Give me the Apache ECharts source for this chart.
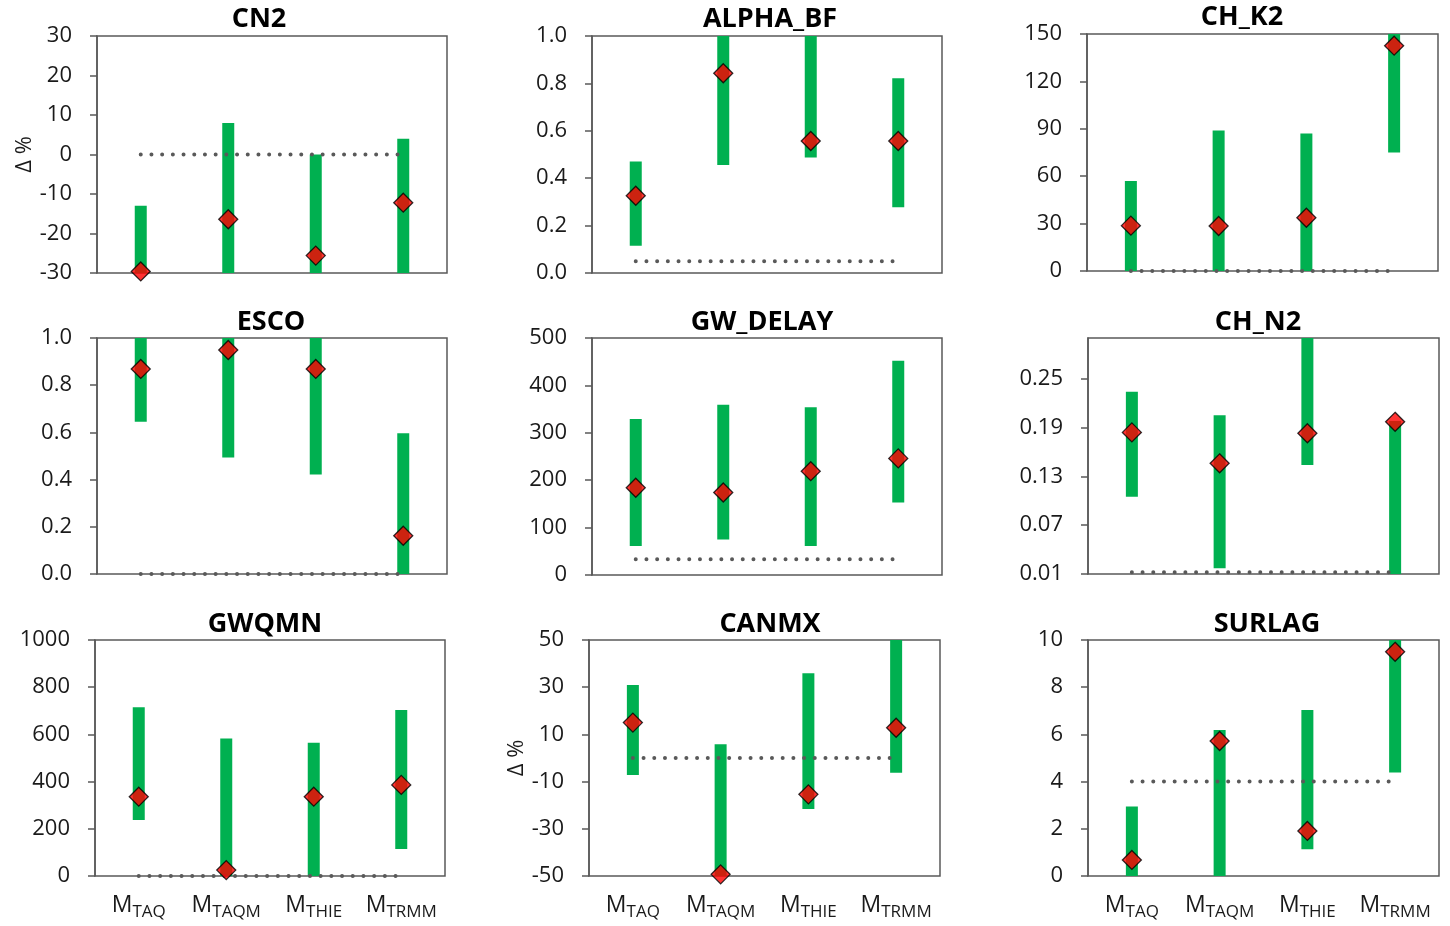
<!DOCTYPE html>
<html>
<head>
<meta charset="utf-8">
<script src="https://cdn.jsdelivr.net/npm/echarts@6/dist/echarts.min.js"></script>
<style>
  html, body { margin: 0; padding: 0; background: #fff; }
  #chart { width: 1450px; height: 926px; }
</style>
</head>
<body>
<div id="chart"></div>
<script>
(function () {

  var categories = ['TAQ', 'TAQM', 'THIE', 'TRMM'];
  var panelNames = ['CN2', 'ALPHA_BF', 'CH_K2', 'ESCO', 'GW_DELAY', 'CH_N2', 'GWQMN', 'CANMX', 'SURLAG'];

  // range (low / high), best value and reference line, per parameter
  var cn2Low = [-30, -30, -30, -30];
  var cn2High = [-13, 8, 0, 4];
  var cn2Best = [-29.6, -16.4, -25.6, -12.2];
  var cn2Ref = 0;

  var alphaLow = [0.115, 0.456, 0.487, 0.277];
  var alphaHigh = [0.47, 1.0, 1.0, 0.822];
  var alphaBest = [0.326, 0.843, 0.557, 0.557];
  var alphaRef = 0.05;

  var chk2Low = [0, 0, 0, 75];
  var chk2High = [57, 89, 87, 150];
  var chk2Best = [28.7, 28.5, 33.7, 142.6];
  var chk2Ref = 0;

  var escoLow = [0.645, 0.494, 0.422, 0];
  var escoHigh = [1.0, 1.0, 1.0, 0.596];
  var escoBest = [0.869, 0.949, 0.869, 0.162];
  var escoRef = 0;

  var gwDelayLow = [61, 75, 61, 153];
  var gwDelayHigh = [329, 359, 354, 452];
  var gwDelayBest = [184, 174, 219, 246];
  var gwDelayRef = 33;

  var chn2Low = [0.105, 0.017, 0.144, 0.01];
  var chn2High = [0.234, 0.205, 0.30, 0.198];
  var chn2Best = [0.184, 0.146, 0.183, 0.197];
  var chn2Ref = 0.012;

  var gwqmnLow = [237, 0, 0, 114];
  var gwqmnHigh = [715, 583, 565, 703];
  var gwqmnBest = [336, 25, 336, 386];
  var gwqmnRef = 0;

  var canmxLow = [-7.2, -50, -21.6, -6.2];
  var canmxHigh = [30.9, 5.8, 35.9, 50];
  var canmxBest = [15, -49.3, -15.4, 12.8];
  var canmxRef = 0;

  var surlagLow = [0, 0, 1.13, 4.39];
  var surlagHigh = [2.94, 6.19, 7.03, 10];
  var surlagBest = [0.68, 5.72, 1.91, 9.5];
  var surlagRef = 4;

  // y tick labels
  var cn2Ticks = [-30, -20, -10, 0, 10, 20, 30];
  var alphaTicks = [0, 0.2, 0.4, 0.6, 0.8, 1.0];
  var chk2Ticks = [0, 30, 60, 90, 120, 150];
  var escoTicks = [0, 0.2, 0.4, 0.6, 0.8, 1.0];
  var gwDelayTicks = [0, 100, 200, 300, 400, 500];
  var chn2Ticks = [0.01, 0.07, 0.13, 0.19, 0.25];
  var gwqmnTicks = [0, 200, 400, 600, 800, 1000];
  var canmxTicks = [-50, -30, -10, 10, 30, 50];
  var surlagTicks = [0, 2, 4, 6, 8, 10];

  var panels = [
    {low: cn2Low, high: cn2High, best: cn2Best, ref: cn2Ref, ticks: cn2Ticks, dec: 0, yName: 'Δ %'},
    {low: alphaLow, high: alphaHigh, best: alphaBest, ref: alphaRef, ticks: alphaTicks, dec: 1},
    {low: chk2Low, high: chk2High, best: chk2Best, ref: chk2Ref, ticks: chk2Ticks, dec: 0},
    {low: escoLow, high: escoHigh, best: escoBest, ref: escoRef, ticks: escoTicks, dec: 1},
    {low: gwDelayLow, high: gwDelayHigh, best: gwDelayBest, ref: gwDelayRef, ticks: gwDelayTicks, dec: 0},
    {low: chn2Low, high: chn2High, best: chn2Best, ref: chn2Ref, ticks: chn2Ticks, dec: 2, max: 0.30},
    {low: gwqmnLow, high: gwqmnHigh, best: gwqmnBest, ref: gwqmnRef, ticks: gwqmnTicks, dec: 0, xLabels: true},
    {low: canmxLow, high: canmxHigh, best: canmxBest, ref: canmxRef, ticks: canmxTicks, dec: 0, xLabels: true, yName: 'Δ %'},
    {low: surlagLow, high: surlagHigh, best: surlagBest, ref: surlagRef, ticks: surlagTicks, dec: 0, xLabels: true}
  ];

  // plot boxes [left, top, width, height] and title centres
  var boxes = [
    [97, 36, 350, 237], [592, 36, 350, 237], [1087, 34, 351, 237],
    [97, 338, 350, 236], [592, 338, 350, 237], [1088, 338, 351, 236],
    [95, 640, 350, 236], [589, 640, 351, 236], [1088, 640, 351, 236]
  ];
  var titlePos = [
    [254, 1], [765, 1], [1237, -1],
    [266, 304], [757, 304], [1253, 304],
    [260, 606], [765, 606], [1262, 606]
  ];

  var font = '"Open Sans", "Noto Sans", sans-serif';
  var axisGray = '#595959';
  var textColor = '#1a1a1a';

  function renderRange(params, api) {
    var x = api.value(0);
    var top = api.coord([x, api.value(2)]);
    var bottom = api.coord([x, api.value(1)]);
    var shape = echarts.graphic.clipRectByRect({
      x: top[0] - 6, y: top[1], width: 12, height: bottom[1] - top[1]
    }, {
      x: params.coordSys.x, y: params.coordSys.y,
      width: params.coordSys.width, height: params.coordSys.height
    });
    return shape && {type: 'rect', shape: shape, style: {fill: '#00B050'}};
  }

  var option = {
    animation: false,
    backgroundColor: '#fff',
    title: [], grid: [], xAxis: [], yAxis: [], series: []
  };

  panels.forEach(function (p, i) {
    var b = boxes[i];
    option.title.push({
      text: panelNames[i], left: titlePos[i][0], top: titlePos[i][1], textAlign: 'center',
      textStyle: {fontFamily: font, fontWeight: 'bold', fontSize: 27, color: '#000'}
    });
    option.grid.push({
      left: b[0], top: b[1], width: b[2], height: b[3],
      show: true, borderColor: axisGray, borderWidth: 1.5, backgroundColor: 'transparent'
    });
    option.xAxis.push({
      type: 'category', gridIndex: i, data: categories,
      axisLine: {show: false}, axisTick: {show: false},
      axisLabel: {
        show: !!p.xLabels, margin: 14, interval: 0,
        formatter: function (v) { return '{m|M}{s|' + v + '}'; },
        rich: {
          m: {fontFamily: font, fontSize: 23, color: textColor},
          s: {fontFamily: font, fontSize: 17, color: textColor, padding: [14, 0, 0, 0]}
        }
      }
    });
    option.yAxis.push({
      type: 'value', gridIndex: i,
      min: p.ticks[0], max: p.max != null ? p.max : p.ticks[p.ticks.length - 1],
      name: p.yName || '', nameLocation: 'middle', nameGap: 60, nameRotate: 90,
      nameTextStyle: {fontFamily: font, fontSize: 22, color: textColor},
      splitLine: {show: false},
      axisLine: {show: true, lineStyle: {color: axisGray, width: 1.5}},
      axisTick: {show: true, inside: false, length: 7, customValues: p.ticks, lineStyle: {color: axisGray, width: 1.5}},
      axisLabel: {
        customValues: p.ticks, margin: 25,
        fontFamily: font, fontSize: 22, color: textColor,
        formatter: function (v) { return Number(v).toFixed(p.dec); }
      }
    });
    option.series.push({
      type: 'custom', xAxisIndex: i, yAxisIndex: i, renderItem: renderRange,
      encode: {x: 0, y: [1, 2]}, z: 2,
      data: categories.map(function (c, k) { return [k, p.low[k], p.high[k]]; })
    });
    option.series.push({
      type: 'line', xAxisIndex: i, yAxisIndex: i, symbol: 'none', z: 3,
      lineStyle: {color: axisGray, width: 4, type: [0, 10.7], cap: 'round'},
      data: categories.map(function () { return p.ref; })
    });
    option.series.push({
      type: 'scatter', xAxisIndex: i, yAxisIndex: i, symbol: 'diamond', symbolSize: 19, z: 4,
      clip: false,
      itemStyle: {color: '#FF0000', borderColor: '#000', borderWidth: 1.3},
      data: p.best
    });
  });

  var chart = echarts.init(document.getElementById('chart'));
  chart.setOption(option);
})();
</script>
</body>
</html>
